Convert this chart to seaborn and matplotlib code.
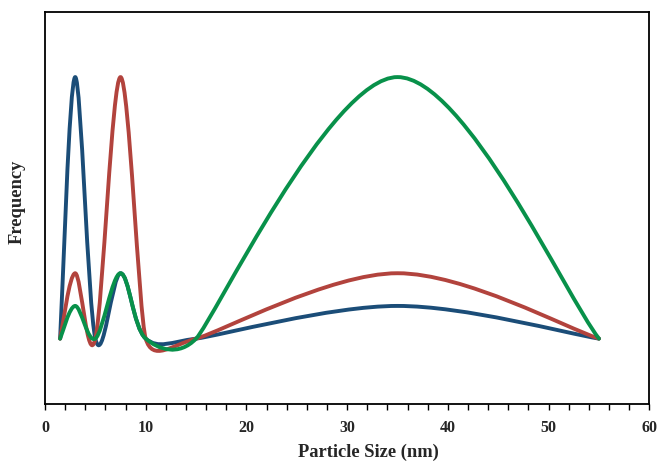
import numpy as np
import matplotlib
matplotlib.use("Agg")
import matplotlib.pyplot as plt
import seaborn as sns
from matplotlib.path import Path
from matplotlib.patches import PathPatch

# ---- data ----
particle_size = [1.5, 3, 5, 7.5, 10, 15, 35, 55]
series_blue = [1, 5, 1, 2, 1, 1, 1.5, 1]
series_red = [1, 2, 1, 5, 1, 1, 2, 1]
series_green = [1, 1.5, 1, 2, 1, 1, 5, 1]
x_ticks = [0, 10, 20, 30, 40, 50, 60]
x_tick_labels = ["0", "10", "20", "30", "40", "50", "60"]

colors = {"blue": "#1B4D78", "red": "#B2433D", "green": "#08914A"}

sns.set_style("ticks")
plt.rcParams['font.family'] = ['Liberation Serif', 'DejaVu Serif']

fig = plt.figure(figsize=(6.58, 4.64), dpi=100)
ax = fig.add_axes([45 / 658, 59 / 464, 604.3 / 658, 392.3 / 464])
ax.set_xlim(0, 60)
ax.set_ylim(0, 6)


def smooth_path(ax, xs, ys):
    """Excel-style smoothed line: cubic Bezier segments through the data points."""
    pts = np.column_stack([xs, ys]).astype(float)
    disp = ax.transData.transform(pts)
    n = len(pts)
    tangents = []
    for i in range(n):
        p = max(i - 1, 0)
        q = min(i + 1, n - 1)
        vec = pts[q] - pts[p]
        d02 = np.hypot(*(disp[q] - disp[p]))
        d01 = np.hypot(*(disp[i] - disp[p]))
        d12 = np.hypot(*(disp[q] - disp[i]))
        lims = [d for d in (d01, d12) if d > 0]
        f = 1 / 6
        if d02 > 0 and lims:
            f = min(f, min(lims) / (2 * d02))
        tangents.append(vec * f)
    verts = [pts[0]]
    codes = [Path.MOVETO]
    for i in range(n - 1):
        verts += [pts[i] + tangents[i], pts[i + 1] - tangents[i + 1], pts[i + 1]]
        codes += [Path.CURVE4] * 3
    return Path(verts, codes)


for ys, key in [(series_blue, "blue"), (series_red, "red"), (series_green, "green")]:
    patch = PathPatch(smooth_path(ax, particle_size, ys), facecolor="none",
                      edgecolor=colors[key], lw=2.8, capstyle="round",
                      joinstyle="round", transform=ax.transData, zorder=3)
    ax.add_patch(patch)

ax.set_xticks(x_ticks)
ax.set_xticklabels(x_tick_labels, fontsize=11.5, fontweight="bold")
ax.set_xticks(np.arange(0, 61, 2), minor=True)
ax.set_yticks([])
ax.tick_params(axis="x", which="both", direction="out", length=4, width=1.0,
               color="black", pad=7)
for s in ax.spines.values():
    s.set_visible(True)
    s.set_color("black")
    s.set_linewidth(1.3)

fig.text(368 / 658, 1 - 452 / 464, "Particle Size (nm)", ha="center", va="center",
         fontsize=13.3, fontweight="bold")
fig.text(17 / 658, 1 - 202 / 464, "Frequency", ha="center", va="center",
         rotation=90, fontsize=13.3, fontweight="bold")

fig.savefig("out.png", dpi=100)
